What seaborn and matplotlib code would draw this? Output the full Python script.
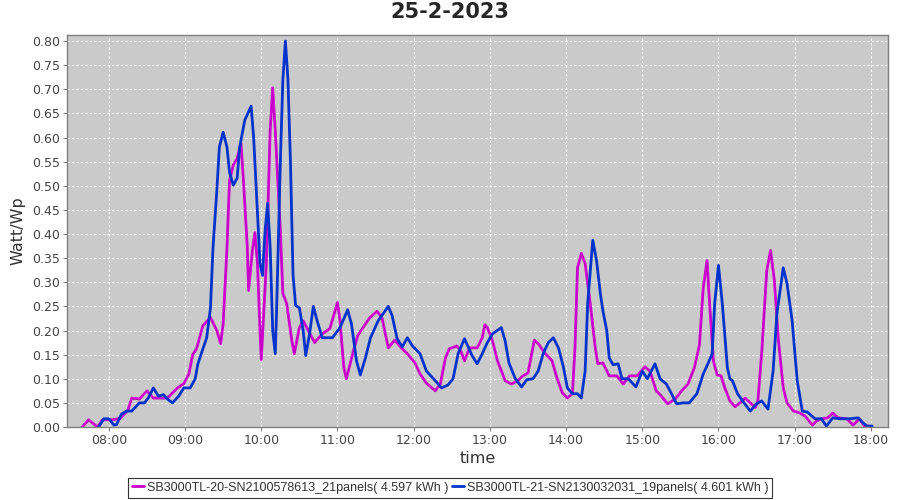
import pandas as pd
import matplotlib
matplotlib.use("Agg")
import matplotlib.pyplot as plt
import matplotlib.dates as mdates
from matplotlib.ticker import MultipleLocator, FormatStrFormatter
import seaborn as sns

# chart data
day = "2023-02-25"
title = "25-2-2023"
series_names = [
    "SB3000TL-20-SN2100578613_21panels( 4.597 kWh )",
    "SB3000TL-21-SN2130032031_19panels( 4.601 kWh )",
]

inv20_times = [
    "07:39", "07:44", "07:51", "07:55", "08:03", "08:09", "08:15", "08:18", "08:24", "08:30",
    "08:35", "08:46", "08:54", "08:59", "09:03", "09:06", "09:09", "09:14", "09:20", "09:25",
    "09:28", "09:30", "09:33", "09:35", "09:38", "09:41", "09:44", "09:46", "09:49", "09:50",
    "09:53", "09:55", "09:57", "09:59", "10:00", "10:04", "10:07", "10:09", "10:11", "10:15",
    "10:17", "10:20", "10:24", "10:26", "10:30", "10:33", "10:37", "10:42", "10:48", "10:54",
    "11:00", "11:02", "11:05", "11:07", "11:12", "11:16", "11:25", "11:31", "11:35", "11:40",
    "11:45", "11:51", "11:55", "12:01", "12:05", "12:10", "12:17", "12:21", "12:25", "12:28",
    "12:34", "12:37", "12:40", "12:44", "12:50", "12:54", "12:56", "12:58", "13:02", "13:06",
    "13:12", "13:17", "13:22", "13:26", "13:30", "13:35", "13:38", "13:43", "13:49", "13:53",
    "13:57", "14:01", "14:05", "14:07", "14:09", "14:12", "14:15", "14:19", "14:23", "14:25",
    "14:29", "14:34", "14:40", "14:45", "14:50", "14:56", "15:02", "15:06", "15:11", "15:15",
    "15:20", "15:26", "15:31", "15:36", "15:41", "15:45", "15:48", "15:51", "15:53", "15:56",
    "15:59", "16:02", "16:05", "16:09", "16:13", "16:17", "16:21", "16:25", "16:29", "16:31",
    "16:34", "16:38", "16:41", "16:44", "16:47", "16:51", "16:54", "16:59", "17:04", "17:08",
    "17:14", "17:17", "17:21", "17:26", "17:30", "17:34", "17:41", "17:46", "17:51", "17:55",
]
inv20_values = [
    0.000, 0.015, 0.000, 0.015, 0.015, 0.018, 0.035, 0.060, 0.058, 0.075,
    0.060, 0.060, 0.081, 0.090, 0.110, 0.150, 0.162, 0.210, 0.227, 0.200,
    0.173, 0.214, 0.372, 0.510, 0.543, 0.557, 0.588, 0.510, 0.372, 0.283,
    0.366, 0.403, 0.339, 0.200, 0.140, 0.339, 0.615, 0.703, 0.615, 0.407,
    0.277, 0.256, 0.180, 0.152, 0.206, 0.220, 0.200, 0.175, 0.193, 0.204,
    0.258, 0.220, 0.123, 0.100, 0.152, 0.190, 0.225, 0.240, 0.227, 0.164,
    0.180, 0.162, 0.152, 0.133, 0.110, 0.091, 0.075, 0.089, 0.143, 0.162,
    0.168, 0.158, 0.137, 0.164, 0.164, 0.185, 0.212, 0.206, 0.179, 0.137,
    0.096, 0.089, 0.096, 0.106, 0.112, 0.180, 0.173, 0.154, 0.137, 0.100,
    0.071, 0.060, 0.069, 0.164, 0.330, 0.360, 0.339, 0.256, 0.164, 0.131,
    0.133, 0.106, 0.106, 0.089, 0.106, 0.106, 0.125, 0.116, 0.075, 0.064,
    0.048, 0.058, 0.075, 0.089, 0.123, 0.170, 0.289, 0.345, 0.256, 0.137,
    0.108, 0.106, 0.081, 0.054, 0.042, 0.050, 0.060, 0.050, 0.040, 0.054,
    0.152, 0.324, 0.366, 0.304, 0.185, 0.081, 0.050, 0.033, 0.029, 0.023,
    0.004, 0.012, 0.017, 0.019, 0.029, 0.019, 0.017, 0.004, 0.017, 0.002,
]

inv21_times = [
    "07:52", "07:56", "08:00", "08:04", "08:06", "08:10", "08:14", "08:18", "08:24", "08:28",
    "08:31", "08:35", "08:39", "08:43", "08:47", "08:50", "08:55", "08:59", "09:04", "09:08",
    "09:10", "09:13", "09:17", "09:20", "09:22", "09:25", "09:27", "09:30", "09:33", "09:35",
    "09:38", "09:41", "09:43", "09:47", "09:52", "09:54", "09:57", "09:59", "10:01", "10:03",
    "10:05", "10:07", "10:09", "10:11", "10:12", "10:15", "10:17", "10:19", "10:21", "10:23",
    "10:25", "10:27", "10:30", "10:33", "10:35", "10:38", "10:41", "10:44", "10:48", "10:56",
    "11:02", "11:08", "11:11", "11:15", "11:18", "11:22", "11:26", "11:32", "11:40", "11:43",
    "11:47", "11:51", "11:55", "11:59", "12:05", "12:10", "12:17", "12:22", "12:27", "12:31",
    "12:35", "12:40", "12:46", "12:50", "12:54", "12:58", "13:02", "13:09", "13:12", "13:15",
    "13:20", "13:25", "13:29", "13:34", "13:38", "13:42", "13:46", "13:50", "13:54", "13:58",
    "14:01", "14:05", "14:09", "14:12", "14:15", "14:17", "14:21", "14:24", "14:27", "14:29",
    "14:32", "14:34", "14:37", "14:41", "14:44", "14:49", "14:55", "15:00", "15:04", "15:10",
    "15:14", "15:19", "15:23", "15:27", "15:32", "15:37", "15:43", "15:48", "15:52", "15:55",
    "15:57", "16:00", "16:03", "16:07", "16:09", "16:11", "16:15", "16:19", "16:25", "16:30",
    "16:34", "16:39", "16:43", "16:46", "16:51", "16:54", "16:58", "17:02", "17:06", "17:10",
    "17:16", "17:21", "17:25", "17:30", "17:36", "17:43", "17:50", "17:54", "17:57", "18:01",
]
inv21_values = [
    0.000, 0.017, 0.017, 0.004, 0.005, 0.027, 0.033, 0.033, 0.050, 0.050,
    0.060, 0.081, 0.064, 0.067, 0.056, 0.050, 0.064, 0.081, 0.081, 0.100,
    0.130, 0.154, 0.185, 0.247, 0.372, 0.490, 0.580, 0.611, 0.580, 0.528,
    0.501, 0.516, 0.580, 0.636, 0.665, 0.600, 0.443, 0.339, 0.314, 0.407,
    0.464, 0.372, 0.200, 0.152, 0.235, 0.547, 0.720, 0.800, 0.720, 0.547,
    0.316, 0.252, 0.247, 0.200, 0.148, 0.193, 0.250, 0.220, 0.185, 0.185,
    0.206, 0.243, 0.214, 0.137, 0.108, 0.143, 0.185, 0.220, 0.250, 0.231,
    0.183, 0.166, 0.185, 0.168, 0.152, 0.116, 0.096, 0.081, 0.087, 0.100,
    0.152, 0.183, 0.148, 0.131, 0.152, 0.175, 0.193, 0.206, 0.179, 0.133,
    0.100, 0.083, 0.098, 0.100, 0.116, 0.152, 0.175, 0.185, 0.164, 0.123,
    0.081, 0.069, 0.069, 0.060, 0.116, 0.256, 0.387, 0.345, 0.276, 0.241,
    0.200, 0.143, 0.129, 0.131, 0.100, 0.100, 0.083, 0.116, 0.100, 0.131,
    0.100, 0.089, 0.069, 0.048, 0.050, 0.050, 0.069, 0.110, 0.133, 0.152,
    0.256, 0.335, 0.256, 0.123, 0.100, 0.096, 0.069, 0.054, 0.033, 0.048,
    0.054, 0.037, 0.116, 0.235, 0.330, 0.297, 0.220, 0.096, 0.033, 0.031,
    0.017, 0.017, 0.002, 0.019, 0.017, 0.017, 0.019, 0.008, 0.002, 0.002,
]

line_colors = ["#cc00cc", "#0033cc"]

df = pd.concat([
    pd.DataFrame({"time": pd.to_datetime([day + " " + t for t in inv20_times]),
                  "value": inv20_values, "series": series_names[0]}),
    pd.DataFrame({"time": pd.to_datetime([day + " " + t for t in inv21_times]),
                  "value": inv21_values, "series": series_names[1]}),
])

sns.set_style("white")
plt.rcParams["font.family"] = ["DejaVu Sans"]

fig = plt.figure(figsize=(9, 5), dpi=100)
ax = fig.add_axes([0.0744, 0.146, 0.9123, 0.784])
ax.set_facecolor("#cacaca")

sns.lineplot(data=df, x="time", y="value", hue="series", hue_order=series_names,
             palette=line_colors, linewidth=2, estimator=None, sort=False,
             legend=False, ax=ax)

ax.set_xlim(pd.Timestamp(day + " 07:27"), pd.Timestamp(day + " 18:13:30"))
ax.set_ylim(0, 0.8125)
ax.yaxis.set_major_locator(MultipleLocator(0.05))
ax.yaxis.set_major_formatter(FormatStrFormatter("%.2f"))
ax.xaxis.set_major_locator(mdates.HourLocator())
ax.xaxis.set_major_formatter(mdates.DateFormatter("%H:%M"))

ax.grid(True, color="white", linestyle=(0, (2, 2)), linewidth=0.8)
for s in ax.spines.values():
    s.set_color("#808080")
    s.set_linewidth(1)
ax.tick_params(axis="both", direction="out", length=3, width=0.8, color="#808080",
               labelsize=9, labelcolor="#444444", pad=2, left=True, bottom=True)

ax.set_xlabel("time", fontsize=11.5, color="#333333", labelpad=3)
ax.set_ylabel("Watt/Wp", fontsize=11.5, color="#333333", labelpad=5)
fig.suptitle(title, fontsize=15, fontweight="bold", y=0.995)

handles = [plt.Line2D([], [], color=c, linewidth=2) for c in line_colors]
leg = fig.legend(handles, series_names, loc="lower center", bbox_to_anchor=(0.5, 0.0),
                 ncol=2, frameon=True, fancybox=False, edgecolor="black",
                 prop={"family": "Liberation Sans", "size": 9},
                 handlelength=1.0, handletextpad=0.2, columnspacing=0.3,
                 borderpad=0.3, borderaxespad=0.2)
leg.get_frame().set_linewidth(0.8)
for t in leg.get_texts():
    t.set_color("#333333")

fig.savefig("out.png", dpi=100)
